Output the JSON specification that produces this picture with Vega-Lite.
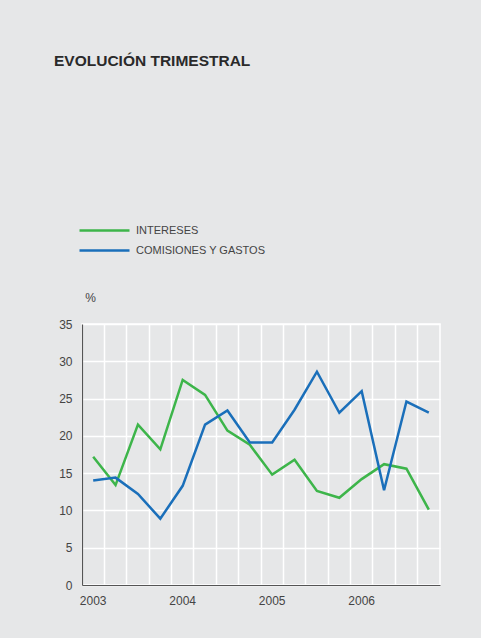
{
  "$schema": "https://vega.github.io/schema/vega-lite/v6.json",
  "autosize": "none",
  "width": 358,
  "height": 261,
  "padding": {"left": 82, "top": 324, "right": 41, "bottom": 53},
  "background": "#e6e7e8",
  "title": {
    "text": "EVOLUCIÓN TRIMESTRAL",
    "anchor": "start",
    "frame": "group",
    "orient": "top",
    "dx": -28,
    "offset": 143,
    "baseline": "alphabetic",
    "font": "Liberation Sans",
    "fontSize": 15.5,
    "fontWeight": "bold",
    "color": "#2a2a2a"
  },
  "data": {
    "values": [
      {"trimestre": "2003-T1", "serie": "INTERESES", "valor": 17.2},
      {"trimestre": "2003-T2", "serie": "INTERESES", "valor": 13.4},
      {"trimestre": "2003-T3", "serie": "INTERESES", "valor": 21.5},
      {"trimestre": "2003-T4", "serie": "INTERESES", "valor": 18.2},
      {"trimestre": "2004-T1", "serie": "INTERESES", "valor": 27.5},
      {"trimestre": "2004-T2", "serie": "INTERESES", "valor": 25.5},
      {"trimestre": "2004-T3", "serie": "INTERESES", "valor": 20.7},
      {"trimestre": "2004-T4", "serie": "INTERESES", "valor": 18.8},
      {"trimestre": "2005-T1", "serie": "INTERESES", "valor": 14.8},
      {"trimestre": "2005-T2", "serie": "INTERESES", "valor": 16.8},
      {"trimestre": "2005-T3", "serie": "INTERESES", "valor": 12.6},
      {"trimestre": "2005-T4", "serie": "INTERESES", "valor": 11.7},
      {"trimestre": "2006-T1", "serie": "INTERESES", "valor": 14.2},
      {"trimestre": "2006-T2", "serie": "INTERESES", "valor": 16.2},
      {"trimestre": "2006-T3", "serie": "INTERESES", "valor": 15.6},
      {"trimestre": "2006-T4", "serie": "INTERESES", "valor": 10.1},
      {"trimestre": "2003-T1", "serie": "COMISIONES Y GASTOS", "valor": 14.0},
      {"trimestre": "2003-T2", "serie": "COMISIONES Y GASTOS", "valor": 14.4},
      {"trimestre": "2003-T3", "serie": "COMISIONES Y GASTOS", "valor": 12.2},
      {"trimestre": "2003-T4", "serie": "COMISIONES Y GASTOS", "valor": 8.9},
      {"trimestre": "2004-T1", "serie": "COMISIONES Y GASTOS", "valor": 13.3},
      {"trimestre": "2004-T2", "serie": "COMISIONES Y GASTOS", "valor": 21.5},
      {"trimestre": "2004-T3", "serie": "COMISIONES Y GASTOS", "valor": 23.4},
      {"trimestre": "2004-T4", "serie": "COMISIONES Y GASTOS", "valor": 19.1},
      {"trimestre": "2005-T1", "serie": "COMISIONES Y GASTOS", "valor": 19.1},
      {"trimestre": "2005-T2", "serie": "COMISIONES Y GASTOS", "valor": 23.5},
      {"trimestre": "2005-T3", "serie": "COMISIONES Y GASTOS", "valor": 28.6},
      {"trimestre": "2005-T4", "serie": "COMISIONES Y GASTOS", "valor": 23.1},
      {"trimestre": "2006-T1", "serie": "COMISIONES Y GASTOS", "valor": 26.0},
      {"trimestre": "2006-T2", "serie": "COMISIONES Y GASTOS", "valor": 12.7},
      {"trimestre": "2006-T3", "serie": "COMISIONES Y GASTOS", "valor": 24.6},
      {"trimestre": "2006-T4", "serie": "COMISIONES Y GASTOS", "valor": 23.1}
    ]
  },
  "mark": {"type": "line", "strokeWidth": 2.5},
  "encoding": {
    "x": {
      "field": "trimestre",
      "type": "ordinal",
      "sort": null,
      "scale": {"type": "band", "paddingInner": 0, "paddingOuter": 0},
      "axis": {
        "title": null,
        "bandPosition": 0,
        "labelExpr": "slice(datum.value, 5) == 'T1' ? slice(datum.value, 0, 4) : ''",
        "labelOffset": 0,
        "labelAngle": 0,
        "labelAlign": "center",
        "labelBaseline": "top",
        "labelPadding": 10,
        "labelFont": "Liberation Sans",
        "labelFontSize": 12,
        "labelColor": "#444444",
        "ticks": false,
        "grid": true,
        "gridColor": "#ffffff",
        "gridWidth": 1.5,
        "domainColor": "#555555",
        "domainWidth": 1.2
      }
    },
    "y": {
      "field": "valor",
      "type": "quantitative",
      "scale": {"domain": [0, 35], "nice": false},
      "axis": {
        "title": "%",
        "titleAngle": 0,
        "titleX": 8,
        "titleY": -27,
        "titleAlign": "center",
        "titleBaseline": "middle",
        "titleFont": "Liberation Sans",
        "titleFontSize": 12,
        "titleFontWeight": "normal",
        "titleColor": "#444444",
        "values": [0, 5, 10, 15, 20, 25, 30, 35],
        "labelFont": "Liberation Sans",
        "labelFontSize": 12,
        "labelColor": "#444444",
        "labelPadding": 10,
        "ticks": false,
        "grid": true,
        "gridColor": "#ffffff",
        "gridWidth": 1.5,
        "domainColor": "#555555",
        "domainWidth": 1.2
      }
    },
    "color": {
      "field": "serie",
      "type": "nominal",
      "scale": {
        "domain": ["INTERESES", "COMISIONES Y GASTOS"],
        "range": ["#3db54a", "#1a6fba"]
      },
      "legend": {
        "title": null,
        "orient": "none",
        "legendX": 16,
        "legendY": -100,
        "padding": 0,
        "symbolType": "M-5,0H5",
        "symbolSize": 100,
        "symbolStrokeWidth": 2.5,
        "labelFont": "Liberation Sans",
        "labelFontSize": 11,
        "labelColor": "#444444",
        "labelOffset": 25,
        "rowPadding": 8
      }
    }
  },
  "config": {
    "view": {"stroke": "#ffffff", "strokeWidth": 1.5}
  }
}
